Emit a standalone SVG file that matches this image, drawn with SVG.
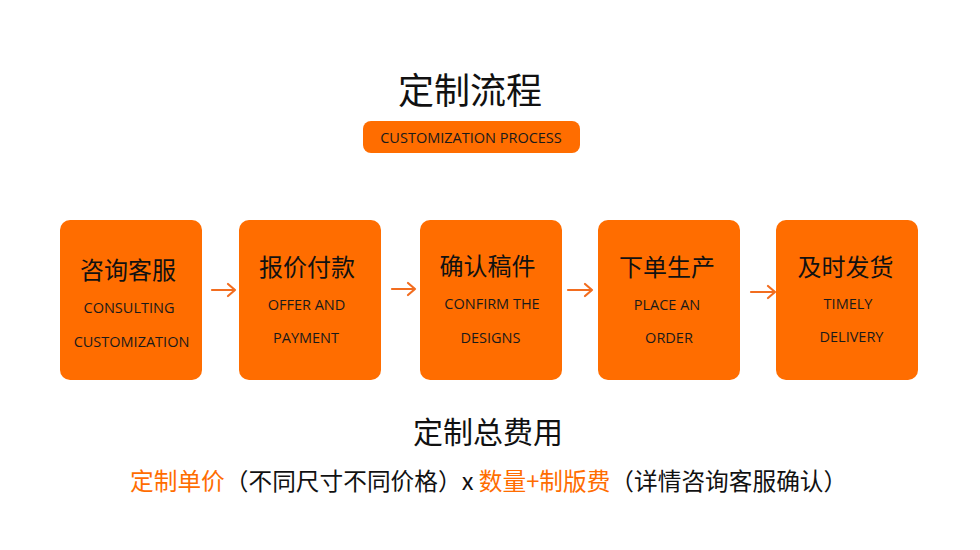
<svg xmlns="http://www.w3.org/2000/svg" width="980" height="550" viewBox="0 0 980 550">
<style>
.box{fill:#ff6d00}
.cn{font-family:"Noto Sans CJK SC","Noto Sans",sans-serif;fill:#111}
.en{font-family:"Open Sans","Noto Sans","Noto Sans CJK SC",sans-serif;fill:#1a1a1a;font-size:14.5px;text-anchor:middle}
.t24{font-size:24px;text-anchor:middle}
.arrow{stroke:#f26d1f;stroke-width:2.2;fill:none;stroke-linecap:round;stroke-linejoin:round}
.or{fill:#ff6d00}
</style>
<rect width="980" height="550" fill="#ffffff"/>
<g id="title">
<text class="cn" x="470" y="104" font-size="36" text-anchor="middle">定制流程</text>
</g>
<g id="subtitle">
<rect x="363" y="121" width="217" height="32" rx="8" class="box"/>
<text class="en" x="471" y="143" font-size="14.5">CUSTOMIZATION PROCESS</text>
</g>
<g id="step1">
<rect class="box" x="60" y="220" width="142" height="160" rx="10"/>
<text class="cn t24" x="128" y="279">咨询客服</text>
<text class="en" x="129" y="313">CONSULTING</text>
<text class="en" x="131.5" y="347">CUSTOMIZATION</text>
</g>
<g id="step2">
<rect class="box" x="239" y="220" width="142" height="160" rx="10"/>
<text class="cn t24" x="307" y="276">报价付款</text>
<text class="en" x="306.5" y="310">OFFER AND</text>
<text class="en" x="306" y="343">PAYMENT</text>
</g>
<g id="step3">
<rect class="box" x="420" y="220" width="142" height="160" rx="10"/>
<text class="cn t24" x="487.5" y="275">确认稿件</text>
<text class="en" x="492" y="309">CONFIRM THE</text>
<text class="en" x="490.5" y="343">DESIGNS</text>
</g>
<g id="step4">
<rect class="box" x="598" y="220" width="142" height="160" rx="10"/>
<text class="cn t24" x="667" y="276">下单生产</text>
<text class="en" x="667" y="310">PLACE AN</text>
<text class="en" x="669" y="343">ORDER</text>
</g>
<g id="step5">
<rect class="box" x="776" y="220" width="142" height="160" rx="10"/>
<text class="cn t24" x="845.5" y="276">及时发货</text>
<text class="en" x="848" y="309">TIMELY</text>
<text class="en" x="851.5" y="342">DELIVERY</text>
</g>
<g id="connectors">
<path class="arrow" d="M212 290 H235 M228 284 L235 290 L228 296"/>
<path class="arrow" d="M392 289 H415 M408 283 L415 289 L408 295"/>
<path class="arrow" d="M568 290 H592 M585 284 L592 290 L585 296"/>
<path class="arrow" d="M751 292 H775 M768 286 L775 292 L768 298"/>
</g>
<g id="total">
<text class="cn" x="488" y="443" font-size="30" text-anchor="middle">定制总费用</text>
</g>
<g id="formula">
<text class="cn" x="130" y="490" font-size="23.7"><tspan class="or">定制单价</tspan><tspan>（不同尺寸不同价格）x </tspan><tspan class="or">数量+制版费</tspan><tspan>（详情咨询客服确认）</tspan></text>
</g>
</svg>
